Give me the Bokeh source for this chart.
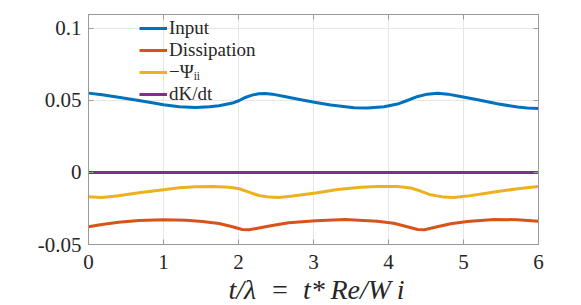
from bokeh.plotting import figure
from bokeh.models import LinearAxis, FixedTicker, Legend, LegendItem, Range1d, Title
from bokeh.embed import file_html
from bokeh.resources import INLINE

# ---- data ----
t_input = [0.00, 0.18, 0.40, 0.67, 0.85, 1.00, 1.21, 1.43, 1.61, 1.74, 1.92, 2.01, 2.09, 2.18,
           2.27, 2.36, 2.45, 2.63, 2.85, 3.03, 3.23, 3.54, 3.72, 3.94, 4.12, 4.25, 4.39, 4.52,
           4.65, 4.79, 4.96, 5.19, 5.45, 5.72, 5.85, 6.00]
v_input = [0.0551, 0.0540, 0.0523, 0.0500, 0.0484, 0.0470, 0.0456, 0.0452, 0.0456, 0.0463,
           0.0482, 0.0500, 0.0521, 0.0537, 0.0547, 0.0549, 0.0544, 0.0526, 0.0503, 0.0486,
           0.0468, 0.0449, 0.0447, 0.0456, 0.0475, 0.0500, 0.0528, 0.0544, 0.0551, 0.0544,
           0.0528, 0.0505, 0.0477, 0.0454, 0.0447, 0.0445]

t_diss = [0.00, 0.18, 0.40, 0.67, 1.00, 1.30, 1.52, 1.74, 1.92, 2.05, 2.14, 2.27, 2.45, 2.67,
          3.03, 3.42, 3.85, 4.07, 4.25, 4.39, 4.48, 4.65, 4.83, 5.05, 5.41, 5.72, 6.00]
v_diss = [-0.0377, -0.0361, -0.0345, -0.0333, -0.0328, -0.0331, -0.0340, -0.0354, -0.0377,
          -0.0396, -0.0398, -0.0386, -0.0368, -0.0349, -0.0335, -0.0326, -0.0338, -0.0352,
          -0.0377, -0.0396, -0.0398, -0.0377, -0.0356, -0.0340, -0.0326, -0.0328, -0.0338]

t_psi = [0.00, 0.18, 0.40, 0.67, 1.00, 1.21, 1.43, 1.65, 1.88, 2.01, 2.14, 2.27, 2.41, 2.54,
         2.72, 3.03, 3.32, 3.63, 3.85, 4.12, 4.30, 4.43, 4.56, 4.74, 4.87, 5.05, 5.41, 5.72, 6.00]
v_psi = [-0.0169, -0.0174, -0.0162, -0.0141, -0.0120, -0.0106, -0.0099, -0.0097, -0.0102,
         -0.0113, -0.0136, -0.0160, -0.0171, -0.0173, -0.0164, -0.0143, -0.0118, -0.0102,
         -0.0097, -0.0097, -0.0108, -0.0129, -0.0155, -0.0171, -0.0173, -0.0164, -0.0136,
         -0.0113, -0.0097]

t_dkdt = [0.0, 6.0]
v_dkdt = [0.0, 0.0]

series_labels = ["Input", "Dissipation", "\u2212\u03a8\u1d62\u1d62", "dK/dt"]
series_colors = ["#0072BD", "#D95319", "#EDB120", "#7E2F8E"]

x_ticks = [0, 1, 2, 3, 4, 5, 6]
y_ticks = [-0.05, 0, 0.05, 0.1]
y_tick_labels = ["-0.05", "0", "0.05", "0.1"]
x_label = "t/\u03bb\u2002=\u2002t*\u2009Re/W\u2009i"

FONT = "'Liberation Serif', 'Times New Roman', serif"
AX_COL = "#9a9a9a"
TXT_COL = "#262626"

p = figure(frame_width=450, frame_height=230, output_backend="svg", toolbar_location=None,
           x_range=Range1d(0, 6), y_range=Range1d(-0.05, 0.1097),
           min_border_left=88, min_border_right=35, min_border_top=14, min_border_bottom=0)
p.outline_line_color = AX_COL
p.background_fill_color = "white"
p.border_fill_color = "white"

def style_axis(ax, show_labels):
    ax.axis_line_color = AX_COL
    ax.major_tick_line_color = AX_COL
    ax.major_tick_in = 5
    ax.major_tick_out = 0
    ax.minor_tick_line_color = None
    ax.major_label_text_font = FONT
    ax.major_label_text_color = TXT_COL
    if not show_labels:
        ax.major_label_text_font_size = "0px"
        ax.major_label_text_alpha = 0
        ax.major_label_standoff = 0

for ax in p.xaxis:
    ax.ticker = FixedTicker(ticks=x_ticks)
    style_axis(ax, True)
    ax.major_label_text_font_size = "21px"
    ax.major_label_standoff = 10

for ax in p.yaxis:
    ax.ticker = FixedTicker(ticks=y_ticks)
    style_axis(ax, True)
    ax.major_label_text_font_size = "21px"
    ax.major_label_standoff = 7
    ax.major_label_overrides = {float(v): s for v, s in zip(y_ticks, y_tick_labels)}
    ax.major_label_overrides.update({0: "0"})

top = LinearAxis(ticker=FixedTicker(ticks=x_ticks))
style_axis(top, False)
p.add_layout(top, "above")
right = LinearAxis(ticker=FixedTicker(ticks=y_ticks))
style_axis(right, False)
p.add_layout(right, "right")

p.xgrid.ticker = FixedTicker(ticks=x_ticks)
p.ygrid.ticker = FixedTicker(ticks=y_ticks)
p.grid.grid_line_color = "#e6e6e6"
p.grid.grid_line_width = 1

renderers = []
for (tx, vy), col in zip([(t_input, v_input), (t_diss, v_diss), (t_psi, v_psi), (t_dkdt, v_dkdt)],
                         series_colors):
    r = p.line(tx, vy, line_color=col, line_width=3, line_join="round")
    renderers.append(r)

# x-axis title, placed like the reference (slightly right of centre)
xt = Title(text=x_label, align="left", offset=140, text_font=FONT, text_font_style="italic",
           text_font_size="28px", text_color=TXT_COL, standoff=0)
p.add_layout(xt, "below")

legend = Legend(items=[LegendItem(label=l, renderers=[r]) for l, r in zip(series_labels, renderers)],
                location=(51, 139))
legend.label_text_font = FONT
legend.label_text_font_size = "19px"
legend.label_text_color = TXT_COL
legend.label_height = 22
legend.glyph_height = 22
legend.glyph_width = 28
legend.label_standoff = 2
legend.spacing = 0
legend.padding = 0
legend.margin = 0
legend.border_line_color = None
legend.background_fill_alpha = 0
p.add_layout(legend, "center")

open("out.html", "w").write(file_html(p, INLINE))
